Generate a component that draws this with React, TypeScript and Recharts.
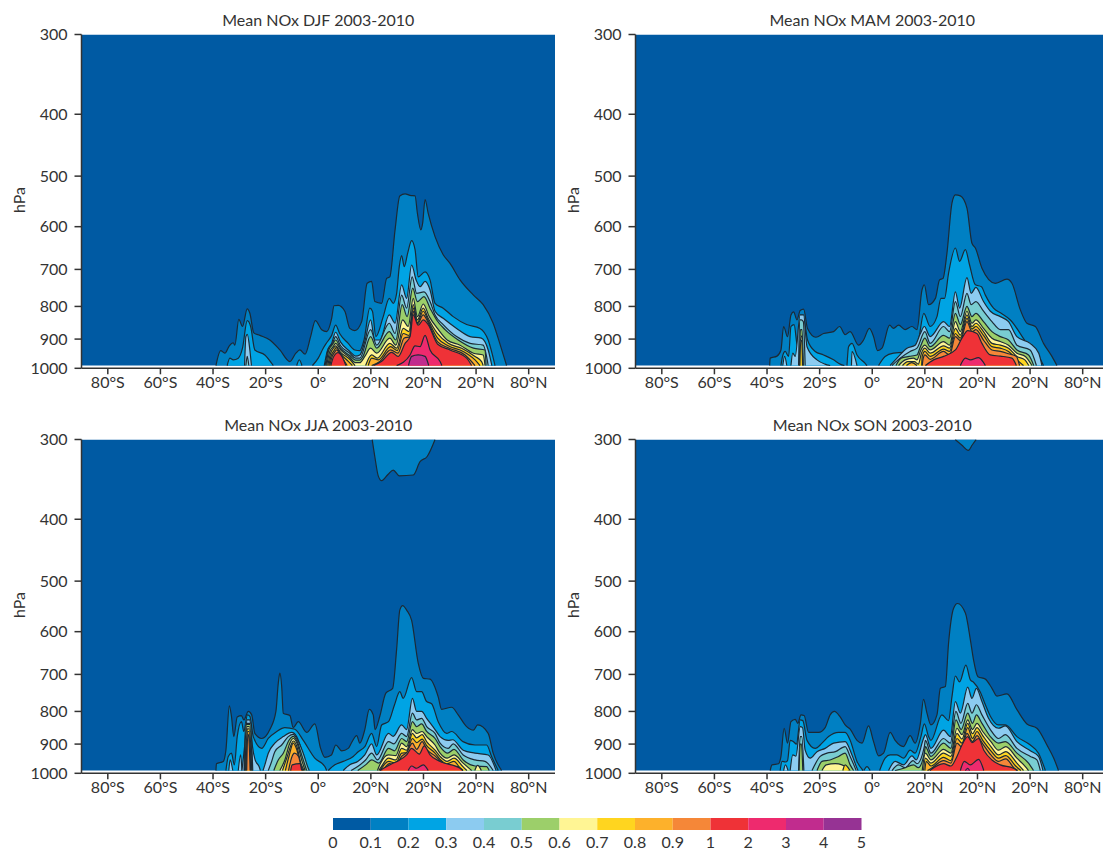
import { Area, AreaChart, Bar, BarChart, XAxis, YAxis } from "recharts";

type Contour = [number, [number, number][], number?];

const LEVEL_LABELS = ["0", "0.1", "0.2", "0.3", "0.4", "0.5", "0.6", "0.7", "0.8", "0.9", "1", "2", "3", "4", "5"];
const BAND_COLORS = [
  "#005aa3", "#0080c3", "#00a4e4", "#8ccbf0", "#79cdd1", "#9ccf6a", "#fff594",
  "#ffd51f", "#fdb12b", "#f58738", "#ef3237", "#ee2a6e", "#c12c8e", "#963394",
];
const LAT_TICKS = [-80, -60, -40, -20, 0, 20, 40, 60, 80];
const LAT_LABELS = ["80°S", "60°S", "40°S", "20°S", "0°", "20°N", "20°N", "20°N", "80°N"];
const PRESSURE_TICKS = [300, 400, 500, 600, 700, 800, 900, 1000];
const SURFACE = 990;

// [band index, [lat, hPa] along the contour, optional base pressure]
const DJF: Contour[] = [
  [1, [[-38.9,990],[-37.1,938],[-35.5,947],[-33.8,922],[-32.3,912],[-31.7,920],[-30.2,838],[-28.8,860],[-27,807],[-26,820],[-24.5,880],[-22.2,888],[-18.4,903],[-14.6,936],[-10.8,976],[-8.5,947],[-7,936],[-5,950],[-2.9,892],[-1.1,842],[1.3,870],[3.2,876],[5.1,835],[6,798],[7.6,797],[10.1,814],[12,866],[13.9,873],[16.5,845],[18.6,736],[20.3,731],[21.5,786],[24.1,791],[26,723],[27.2,719],[29.2,607],[31,537],[33,533],[34.9,536],[36.8,537],[37.7,572],[39,607],[39.7,592],[40.6,544],[41.8,572],[44.4,622],[47.5,664],[50.1,685],[53.9,727],[59,768],[62.7,795],[66.5,850],[69,914],[71.6,990]]],
  [2, [[-34.6,990],[-33.6,964],[-32.3,970],[-30.4,964],[-28.8,930],[-27,842],[-25.7,860],[-24.1,936],[-20.3,953],[-17.1,990]]],
  [2, [[-8.2,990],[-7.2,970],[-6.2,990]]],
  [2, [[-2.2,990],[0,964],[1.9,930],[3.2,912],[5.1,888],[6.6,856],[8.2,883],[11.4,914],[13.9,936],[15.8,938],[17.4,903],[19.6,805],[20.6,814],[21.9,892],[24.7,830],[27,777],[28.5,791],[29.8,763],[30.8,693],[31.7,666],[32.7,693],[34,660],[35.5,631],[36.8,652],[38,719],[40.6,706],[42.5,727],[44.4,791],[47.5,805],[51.3,830],[56.4,854],[61.5,866],[64.6,903],[67.2,990]]],
  [3, [[-28,990],[-27.5,892],[-27,885],[-26,936],[-25.4,990]]],
  [3, [[2.3,990],[3.4,941],[5.1,914],[6.6,878],[8.5,910],[12,941],[14.2,957],[15.8,953],[17.7,908],[19.9,840],[21.5,903],[23.4,903],[27,825],[29.2,850],[31.7,740],[33.6,777],[35.5,689],[37.2,727],[38.7,745],[40.6,731],[42.5,754],[44.4,814],[47.5,835],[52.6,866],[57.7,892],[62,897],[64.6,936],[66,990]]],
  [4, [[-27.5,990],[-27,958],[-26.4,990]]],
  [4, [[2.6,990],[3.8,933],[5.5,912],[6.6,892],[8.5,922],[12,947],[14.2,964],[15.8,964],[19.9,870],[22.2,920],[27,850],[29.2,882],[31.7,768],[33.6,805],[35.7,719],[37.4,763],[40.2,759],[42.5,786],[44.4,825],[47.5,854],[52.6,892],[57.7,914],[62.7,920],[64.6,990]]],
  [5, [[2.9,990],[4,936],[5.5,917],[6.6,903],[8.5,930],[12,955],[14.2,971],[15.8,971],[17,958],[19.9,892],[22.2,930],[27,876],[29.5,903],[31.9,795],[33.8,830],[35.9,749],[37.7,786],[40.2,772],[42.5,805],[45,840],[48.2,870],[53.2,903],[59,930],[63.4,936],[63.8,990]]],
  [6, [[3.2,990],[4.4,941],[5.7,925],[6.6,914],[8.5,936],[12,962],[14,980],[15.8,980],[17.7,958],[19.9,930],[22.2,947],[27.2,897],[29.5,920],[32.1,840],[34.2,860],[36.1,777],[37.7,830],[39.9,793],[42.2,830],[45.3,866],[49,903],[53.9,920],[59,947],[62.7,953],[63.4,990]]],
  [7, [[3.6,990],[4.7,947],[5.8,930],[6.6,922],[8.5,944],[12,968],[14,990]]],
  [7, [[18,990],[20.3,953],[22.4,964],[27.2,914],[29.8,930],[32.3,866],[34.5,876],[36.1,795],[37.7,840],[39.9,805],[41.8,835],[45.3,882],[49.4,914],[54.5,930],[59.6,958],[62.1,976],[62.7,990]]],
  [8, [[4,990],[5,953],[6,938],[6.8,928],[8.5,949],[11.5,976],[13,990]]],
  [8, [[19,990],[20.3,964],[22.8,970],[27.5,925],[30,938],[32.3,882],[34.6,888],[36.1,805],[37.7,848],[39.9,814],[41.8,842],[45.4,897],[49.4,922],[55.1,941],[59.6,970],[61.5,990]]],
  [9, [[4.4,990],[5.3,958],[6.2,944],[7,936],[8.5,955],[11,990]]],
  [9, [[20.3,990],[23.4,976],[27.5,936],[30.3,947],[32.6,897],[34.9,892],[36.1,814],[37.7,852],[39.9,825],[41.8,848],[45.3,908],[49.8,930],[55.8,953],[59.6,990]]],
  [10, [[4.8,990],[5.6,964],[6.5,950],[7.5,945],[9,958],[10.5,990]]],
  [10, [[21,990],[24,976],[27.9,944],[30.4,958],[33,914],[34.9,892],[36.1,825],[38,856],[39.9,840],[41.8,854],[45.4,917],[50.1,936],[56.4,964],[58.3,990]]],
  [11, [[29.8,990],[34.9,953],[36.8,922],[38.7,925],[40.6,888],[42.5,936],[46.3,976],[47,990]]],
  [12, [[34.3,990],[35.5,958],[38,953],[40.6,958],[42,990]]],
];

const MAM: Contour[] = [
  [1, [[-39,990],[-38.8,964],[-36.2,957],[-34.7,936],[-33.7,860],[-32.2,892],[-30.9,825],[-29.9,816],[-28.6,840],[-27.4,812],[-26.1,808],[-24.6,866],[-21.4,894],[-18.5,882],[-14.7,876],[-12.4,860],[-10.3,886],[-8.4,876],[-5.2,920],[-3.3,903],[-1.1,866],[0.5,892],[2,938],[3.7,930],[6.6,856],[8.1,866],[10,856],[12.5,870],[15.1,860],[17,870],[18.9,754],[19.8,740],[21.4,795],[24,777],[25.6,727],[26.9,723],[28.4,660],[30.3,551],[31.6,535],[33.5,537],[36,561],[37.9,637],[39.2,648],[41.7,697],[46.8,736],[51.2,725],[53.1,736],[56.3,810],[58.8,850],[62,860],[65.1,914],[68.3,958],[70.2,990]]],
  [2, [[-34.7,990],[-34.1,958],[-33.1,941],[-31.8,958],[-30.9,860],[-29.7,854],[-28.4,925],[-27.4,840],[-26.1,835],[-24.6,903],[-21.7,941],[-18.5,953],[-14.7,970],[-12.2,985],[-10.6,990]]],
  [2, [[-9.6,990],[-9,925],[-7.7,914],[-5.8,953],[-2.7,982],[-2,990]]],
  [2, [[2.4,990],[4.9,958],[8.1,947],[11.9,944],[15.7,953],[17.6,903],[19.6,820],[22,860],[24.6,830],[26.1,777],[27.5,777],[29,710],[31.6,648],[33.2,680],[35.4,652],[37,689],[39.2,740],[41.5,745],[43,768],[46.1,805],[49,820],[52.5,840],[58.8,914],[63.3,958],[65.1,990]]],
  [3, [[-34,990],[-33.3,958],[-32.5,990]]],
  [3, [[-30.9,990],[-30.2,947],[-29.3,958],[-27.4,825],[-26.1,825],[-24.8,925],[-21,970],[-18,985],[-16,990]]],
  [3, [[-7.9,990],[-7.7,941],[-5.8,990]]],
  [3, [[6.8,990],[9.4,964],[13.2,930],[16.3,920],[18.3,882],[19.8,860],[22,892],[27.1,845],[29.4,860],[31.6,759],[33.2,805],[36,721],[37.6,763],[39.4,747],[42.3,786],[44.9,814],[48.7,830],[51.8,845],[55,892],[60,914],[63.3,947],[64.5,990]]],
  [4, [[-28,990],[-27.6,840],[-27,840],[-26.2,845],[-25.5,990]]],
  [4, [[7.5,990],[10.6,964],[14.4,941],[17,930],[20,876],[22,914],[27.1,860],[29.4,876],[31.6,786],[33.5,830],[36,763],[37.6,795],[39.4,786],[42.3,814],[45.5,845],[48.7,870],[51.8,870],[55,920],[60,936],[62.4,990]]],
  [5, [[-27.7,990],[-27.3,870],[-26.7,870],[-26.2,990]]],
  [5, [[9,990],[11,964],[14,958],[17,953],[18.3,925],[20,897],[22,925],[27.1,888],[29.4,897],[31.6,820],[33.5,854],[36,800],[37.9,830],[39.4,820],[42.3,845],[45.5,876],[48.7,892],[51.8,903],[55,936],[59.4,953],[61.4,990]]],
  [6, [[-27.6,990],[-27.2,890],[-26.8,890],[-26.4,990]]],
  [6, [[10,990],[12.5,970],[15.7,964],[17,970],[18.5,936],[20,920],[22,936],[27.1,908],[29.4,920],[31.6,845],[33.5,876],[36,814],[37.9,850],[39.4,840],[42.3,866],[45.5,897],[48.7,908],[51.8,920],[55,947],[58.2,958],[60.7,990]]],
  [7, [[-27.5,990],[-27.2,905],[-26.8,905],[-26.5,990]]],
  [7, [[11.5,990],[13.5,976],[16,976],[17.5,985],[18.7,947],[20,930],[22,947],[27.1,922],[29.4,930],[31.6,866],[33.5,887],[36,825],[37.9,860],[39.4,850],[42.3,876],[45.5,914],[48.7,920],[51.8,930],[55,958],[58,970],[59.5,990]]],
  [8, [[13,990],[15,980],[17,990]]],
  [8, [[18.8,990],[19,958],[20,941],[22,958],[27.1,933],[29.4,941],[31.6,882],[33.5,897],[36,835],[37.9,868],[39.4,860],[42.3,888],[45.5,925],[48.7,930],[51.8,941],[55,970],[57.5,990]]],
  [9, [[19,990],[19.3,968],[20,953],[22,968],[27.1,941],[29.4,953],[31.6,892],[33.5,905],[36,845],[37.9,876],[39.4,870],[42.3,903],[45.5,936],[48.7,941],[51.8,949],[54.8,958],[56,990]]],
  [10, [[20.2,990],[23.3,970],[27.1,958],[31.6,936],[34.1,897],[36.3,873],[39.8,882],[41.7,914],[44.9,953],[48.7,957],[53.1,964],[54.8,990]]],
  [11, [[33.5,990],[35.4,964],[37.3,970],[40.4,962],[43,990]]],
];

const JJA: Contour[] = [
  [1, [[-38.9,990],[-38.7,966],[-36.1,958],[-35.1,920],[-33.8,784],[-33,814],[-32.1,876],[-30.8,816],[-29.2,812],[-28.3,825],[-26.6,800],[-25.3,810],[-24.1,866],[-21.5,882],[-18.4,854],[-16.1,800],[-15.2,723],[-14.6,697],[-13.9,731],[-13.3,805],[-10.8,812],[-9.5,848],[-7.6,830],[-4.4,863],[-1.3,837],[0.9,914],[2.5,944],[5,936],[6.7,903],[8.9,922],[11.4,914],[12.7,895],[14.6,873],[15.8,897],[17.7,854],[19.4,794],[20.9,810],[21.6,854],[23.4,814],[25.7,749],[28.3,736],[29.8,639],[31,555],[32.1,546],[33.6,555],[35.5,576],[38,672],[40,710],[42.5,712],[45.6,759],[46.9,794],[50.7,788],[53.2,810],[56.4,845],[59,856],[60.6,840],[64.6,866],[66.5,930],[69.7,990]]],
  [1, [[20.5,300],[21.6,321],[22.8,342],[24.1,348],[26.6,340],[28.5,335],[30.8,342],[36.1,341],[38.7,325],[41.4,319],[44.4,300]], 300],
  [2, [[-35.1,990],[-34.2,941],[-33,930],[-31.9,970],[-30.8,876],[-29.2,830],[-28.3,860],[-26.9,810],[-26,814],[-24.7,876],[-21.5,914],[-19,882],[-15.8,860],[-12.7,848],[-8.9,853],[-5.7,888],[-1.3,947],[2.5,976],[3.2,990]]],
  [2, [[3.8,990],[6.3,970],[9.5,958],[13.3,941],[15.2,925],[17.7,908],[20.3,866],[22.2,908],[24.1,840],[26.7,830],[29,781],[31,745],[32.3,763],[35.5,708],[37.4,745],[39.3,745],[41.2,772],[43.1,778],[45.6,830],[48.8,866],[50.7,860],[55,892],[59.6,903],[64,903],[65.9,941],[68.4,990]]],
  [3, [[-34,990],[-33.5,953],[-32.5,990]]],
  [3, [[-30.4,990],[-29.5,936],[-29,990]]],
  [3, [[-29,990],[-28,908],[-27,825],[-26,825],[-25,908],[-24,953],[-22.5,976],[-22,990]]],
  [3, [[-21,990],[-20.3,970],[-19,930],[-16.5,897],[-13.3,876],[-10.1,863],[-8.2,876],[-6.3,920],[-4.4,982],[-3.8,990]]],
  [3, [[9.5,990],[12,970],[15,958],[17.7,936],[20.3,899],[22.2,936],[26.7,866],[28.5,875],[31.7,840],[33.6,854],[35.8,763],[37.4,800],[39.3,800],[41.2,820],[44.4,854],[46.3,876],[49.4,888],[51.1,886],[55.1,920],[59.6,930],[64.6,936],[67.6,990]]],
  [4, [[-28.2,990],[-27.6,835],[-25.8,835],[-24.9,990]]],
  [4, [[-19,990],[-17.7,958],[-16.5,925],[-13.9,903],[-11.4,876],[-9.5,869],[-7.9,886],[-5.7,930],[-3.8,982],[-3.4,990]]],
  [4, [[12.5,990],[15,976],[18,953],[20.3,930],[22.5,953],[26.7,892],[28.8,899],[31.7,866],[33.6,876],[35.8,805],[37.4,825],[39.3,820],[41.2,845],[44.4,866],[46.3,897],[49.4,914],[51.3,899],[55.1,936],[59.6,953],[63.4,958],[66.5,990]]],
  [5, [[-28,990],[-27.4,838],[-26,838],[-25.1,990]]],
  [5, [[-16.9,990],[-15.2,953],[-13.3,930],[-11,886],[-9.5,875],[-8,892],[-6.3,936],[-4.4,990]]],
  [5, [[15,990],[18,970],[20.3,953],[23,964],[26.7,914],[29,922],[31.7,882],[33.6,892],[35.8,830],[37.4,845],[39.3,837],[41.2,860],[44.4,882],[46.3,908],[49.2,930],[51.6,917],[55.1,953],[59.6,974],[64,976],[65,990]]],
  [6, [[-27.8,990],[-27.2,845],[-26.2,845],[-25.3,990]]],
  [6, [[-14.6,990],[-12.7,953],[-10.8,897],[-9.5,882],[-8,899],[-6.3,953],[-5,990]]],
  [6, [[22.5,990],[23.4,970],[26.7,936],[29.5,938],[31.7,897],[33.6,908],[35.8,854],[37.4,866],[39.5,860],[41.2,876],[44.4,903],[46.3,930],[49,947],[51.6,936],[55.1,964],[58.3,990]]],
  [6, [[59.5,990],[60.6,972],[62,990]]],
  [7, [[-27.6,990],[-27,852],[-26.3,852],[-25.5,990]]],
  [7, [[-13.6,990],[-11.8,941],[-10.5,906],[-9.5,890],[-8.2,906],[-6.6,964],[-5.4,990]]],
  [7, [[23,990],[24,976],[26.7,947],[29.5,953],[31.7,914],[33.6,920],[35.8,866],[37.4,880],[39.5,870],[41.2,892],[44.4,920],[46.3,941],[49,958],[51.6,947],[55,976],[56.5,990]]],
  [8, [[-27.4,990],[-26.9,860],[-26.4,860],[-25.7,990]]],
  [8, [[-12.5,990],[-11,936],[-9.5,897],[-8.2,917],[-6.6,976],[-5.7,990]]],
  [8, [[23.5,990],[24.5,976],[26.7,958],[29.5,964],[31.7,930],[33.6,928],[35.8,882],[37.4,895],[39.5,884],[41.2,905],[44.4,930],[46.3,951],[49,966],[51.6,958],[54,982],[55,990]]],
  [9, [[-27.2,990],[-26.8,870],[-26.5,870],[-25.9,990]]],
  [9, [[-11.3,990],[-10.2,947],[-9,930],[-7.5,941],[-6.3,982],[-5.8,990]]],
  [9, [[24,990],[25.5,978],[27,966],[29.5,972],[31.7,941],[33.6,928],[35.8,897],[37.4,917],[39.5,892],[41.2,917],[44.4,939],[46.3,955],[49,974],[53,976],[55,990]]],
  [10, [[-10.5,990],[-9.9,970],[-7,966],[-6.3,990]]],
  [10, [[23.4,990],[28,966],[30,958],[33.6,936],[35.5,914],[38.4,933],[40.3,906],[42.5,936],[46.3,958],[53.9,982],[55,990]]],
  [11, [[34.2,990],[35.5,974],[37.4,982],[39.9,970],[41.8,990]]],
];

const SON: Contour[] = [
  [1, [[-38.8,990],[-38.1,970],[-35.6,966],[-34.7,941],[-33.5,850],[-32.2,897],[-30.9,830],[-29.3,823],[-28.3,835],[-27.1,810],[-25.9,812],[-24.2,863],[-20.4,863],[-17.9,848],[-16,810],[-14.4,800],[-12.2,816],[-10.3,840],[-8.4,853],[-5.8,888],[-3.9,897],[-1.4,843],[0.5,892],[2.4,939],[4.3,930],[6.8,863],[8.7,888],[11.9,908],[14.4,873],[16.3,897],[18.3,835],[19.5,766],[20.8,805],[22.3,840],[24.6,810],[25.9,736],[27.8,731],[29,626],[30.9,552],[32.4,542],[35.4,561],[37.3,618],[38.5,664],[40.2,706],[43,712],[45.5,736],[47.4,757],[51.2,751],[55,795],[58.8,837],[62.6,850],[66.4,903],[69,947],[70.8,990]]],
  [1, [[31.5,300],[34,306],[36.5,312],[38,306],[39.5,300]], 300],
  [2, [[-35,990],[-34.3,958],[-33,960],[-32.2,955],[-31.2,888],[-30,892],[-28.8,900],[-27.4,825],[-26.4,827],[-24.8,888],[-21.7,914],[-19.1,897],[-16.6,876],[-12.8,863],[-10.3,863],[-8.4,888],[-5.8,958],[-3.5,990]]],
  [2, [[-3.2,990],[-2,976],[-0.8,990]]],
  [2, [[2.8,990],[4.9,947],[6.8,936],[9.4,936],[11.9,947],[14.4,920],[16.3,930],[18.5,876],[19.8,837],[21.4,876],[22.3,888],[26.5,810],[29,827],[30.3,759],[31.6,704],[33.2,719],[35.6,677],[37.3,714],[38.5,720],[41,745],[43,781],[44.9,814],[48,840],[50.6,840],[55,876],[60.1,903],[63.2,930],[65.8,990]]],
  [3, [[-33.7,990],[-33,970],[-32,990]]],
  [3, [[-31.2,990],[-30.2,936],[-29,940],[-27.4,845],[-26.5,848],[-25.5,920],[-23.6,947],[-21,925],[-17.9,914],[-14.7,897],[-10.3,892],[-7.7,936],[-5.8,982],[-5.4,990]]],
  [3, [[6.2,990],[8.7,958],[11.9,970],[15.1,939],[16.7,953],[19.5,882],[20.2,870],[22.3,914],[27.1,856],[29.7,876],[31.6,772],[33.5,805],[36.3,733],[37.9,763],[39.6,736],[41.7,772],[44.2,820],[48,850],[50.6,843],[55,892],[60.1,922],[63.2,941],[64.9,990]]],
  [4, [[-28,990],[-27.4,876],[-26.8,876],[-26,990]]],
  [4, [[-22.9,990],[-19.8,941],[-17.2,930],[-14,925],[-10.3,908],[-8.4,941],[-6.1,990]]],
  [4, [[7.5,990],[10,970],[12.5,980],[15.5,955],[17,966],[19.8,908],[20.2,888],[22.3,930],[27.1,882],[29.7,897],[31.8,800],[33.7,835],[36.3,777],[37.9,805],[39.6,781],[41.7,810],[44.9,854],[48,882],[50.6,870],[55,914],[60.1,941],[62.6,953],[63.9,990]]],
  [5, [[-27.8,990],[-27.4,900],[-26.9,900],[-26.4,990]]],
  [5, [[-21,990],[-19.1,958],[-16,953],[-12.8,941],[-10.3,930],[-8.4,970],[-7.1,990]]],
  [5, [[8.7,990],[12,982],[15.7,970],[17.5,980],[19.8,930],[20.2,908],[22.3,941],[27.1,897],[29.9,914],[31.8,825],[33.8,854],[36.3,805],[38.1,835],[39.6,810],[41.7,835],[44.9,876],[48,897],[50.6,892],[55,930],[59.4,964],[61.3,990]]],
  [6, [[-19.1,990],[-17.5,970],[-14,966],[-11.5,970],[-9.6,982],[-9,990]]],
  [6, [[19,990],[20.2,930],[22.3,953],[27.1,917],[29.9,930],[32.2,850],[34.1,870],[36.3,825],[38.1,854],[39.8,835],[42,860],[45.1,892],[48,920],[50.8,908],[55,947],[58.2,976],[59.4,990]]],
  [7, [[-11.2,990],[-10.3,970],[-9,982],[-8.4,990]]],
  [7, [[19.5,990],[20.2,947],[22.3,964],[27.1,930],[29.9,941],[32.2,866],[34.1,884],[36.3,835],[38.1,867],[39.8,848],[42,873],[45.1,908],[48,936],[50.8,925],[55,964],[57.5,990]]],
  [8, [[20,990],[20.5,958],[22.3,974],[27.1,944],[29.9,955],[32.2,882],[34.1,897],[36.3,848],[38.1,882],[39.8,860],[42,888],[45.1,922],[48,947],[50.8,938],[54.5,974],[56.5,990]]],
  [9, [[21,990],[22.5,982],[27.1,955],[29.9,964],[32.2,897],[34.1,910],[36,866],[38.1,892],[39.8,873],[42,899],[45.1,936],[48,958],[50.8,949],[54,982],[55.3,990]]],
  [10, [[21.9,990],[27.1,966],[29.9,974],[32.2,941],[34.1,903],[36.3,876],[37.9,895],[40.4,882],[42.4,920],[45.5,953],[48.7,970],[53.7,982],[55,990]]],
  [11, [[33.5,990],[35,958],[37.3,970],[40.4,951],[42.4,990]]],
  [12, [[35.4,990],[36.3,982],[37,990]]],
];

const PANELS: { title: string; left: number; top: number; contours: Contour[] }[] = [
  { title: "Mean NOx DJF 2003-2010", left: 0, top: 0, contours: DJF },
  { title: "Mean NOx MAM 2003-2010", left: 554, top: 0, contours: MAM },
  { title: "Mean NOx JJA 2003-2010", left: 0, top: 405.4, contours: JJA },
  { title: "Mean NOx SON 2003-2010", left: 554, top: 405.4, contours: SON },
];

const FONT = "Lato, sans-serif";
const FONT_SIZE = 16;
const INK = "#333333";

function toRows(points: [number, number][]) {
  return points.map(([lat, p]) => ({ lat, p }));
}

function latLabel(lat: number): string {
  return LAT_LABELS[LAT_TICKS.indexOf(lat)] ?? "";
}

function Panel({ title, left, top, contours }: { title: string; left: number; top: number; contours: Contour[] }) {
  return (
    <div style={{ position: "absolute", left, top, width: 555, height: 400 }}>
      <div
        style={{
          position: "absolute",
          left: 81.5,
          width: 473.5,
          top: 11,
          textAlign: "center",
          fontFamily: FONT,
          fontSize: FONT_SIZE,
          lineHeight: "18px",
          color: INK,
        }}
      >
        {title}
      </div>
      <div
        style={{
          position: "absolute",
          left: 19,
          top: 200,
          transform: "translate(-50%, -50%) rotate(-90deg)",
          fontFamily: FONT,
          fontSize: FONT_SIZE,
          lineHeight: "18px",
          color: INK,
        }}
      >
        hPa
      </div>
      <AreaChart width={555} height={400} margin={{ top: 34.5, right: 0, bottom: 0, left: 0 }}>
        <XAxis
          type="number"
          dataKey="lat"
          domain={[-90, 90]}
          ticks={LAT_TICKS}
          interval={0}
          tickFormatter={latLabel}
          height={31.7}
          tickSize={6}
          tickMargin={2}
          allowDataOverflow
          stroke={INK}
          strokeWidth={1.5}
          tick={{ fontSize: FONT_SIZE, fontFamily: FONT, fill: INK }}
        />
        <YAxis
          type="number"
          scale="log"
          reversed
          domain={[300, 1000]}
          ticks={PRESSURE_TICKS}
          interval={0}
          width={81.5}
          tickSize={7}
          tickMargin={7}
          allowDataOverflow
          stroke={INK}
          strokeWidth={1.5}
          tick={{ fontSize: FONT_SIZE, fontFamily: FONT, fill: INK }}
        />
        <Area
          data={toRows([[-90, 300], [90, 300]])}
          dataKey="p"
          baseValue={SURFACE}
          type="linear"
          stroke="none"
          fill={BAND_COLORS[0]}
          fillOpacity={1}
          dot={false}
          activeDot={false}
          isAnimationActive={false}
        />
        {contours.map(([band, points, base], i) => (
          <Area
            key={i}
            data={toRows(points)}
            dataKey="p"
            baseValue={base ?? SURFACE}
            type="monotone"
            stroke="#1c2a35"
            strokeWidth={1.2}
            fill={BAND_COLORS[band]}
            fillOpacity={1}
            dot={false}
            activeDot={false}
            isAnimationActive={false}
          />
        ))}
      </AreaChart>
    </div>
  );
}

const LEGEND_ROW = [Object.fromEntries(BAND_COLORS.map((_, i) => [`band${i}`, 1]))];
const LEGEND_TICKS = LEVEL_LABELS.map((_, i) => i);

function ColorBar() {
  return (
    <div style={{ position: "absolute", left: 312.5, top: 810 }}>
      <BarChart
        width={568.5}
        height={42}
        layout="vertical"
        data={LEGEND_ROW}
        barCategoryGap={0}
        margin={{ top: 8, right: 20, bottom: 0, left: 20 }}
      >
        <XAxis
          type="number"
          domain={[0, BAND_COLORS.length]}
          ticks={LEGEND_TICKS}
          interval={0}
          tickFormatter={(i: number) => LEVEL_LABELS[i]}
          height={22}
          axisLine={false}
          tickLine={false}
          tickMargin={1}
          tick={{ fontSize: FONT_SIZE, fontFamily: FONT, fill: INK }}
        />
        <YAxis type="category" hide />
        {BAND_COLORS.map((color, i) => (
          <Bar key={color} dataKey={`band${i}`} stackId="bar" fill={color} isAnimationActive={false} />
        ))}
      </BarChart>
    </div>
  );
}

export default function App() {
  return (
    <div style={{ position: "absolute", left: 0, top: 0, width: 1103, height: 850, overflow: "hidden", background: "#fff" }}>
      {PANELS.map((panel) => (
        <Panel key={panel.title} {...panel} />
      ))}
      <ColorBar />
    </div>
  );
}
